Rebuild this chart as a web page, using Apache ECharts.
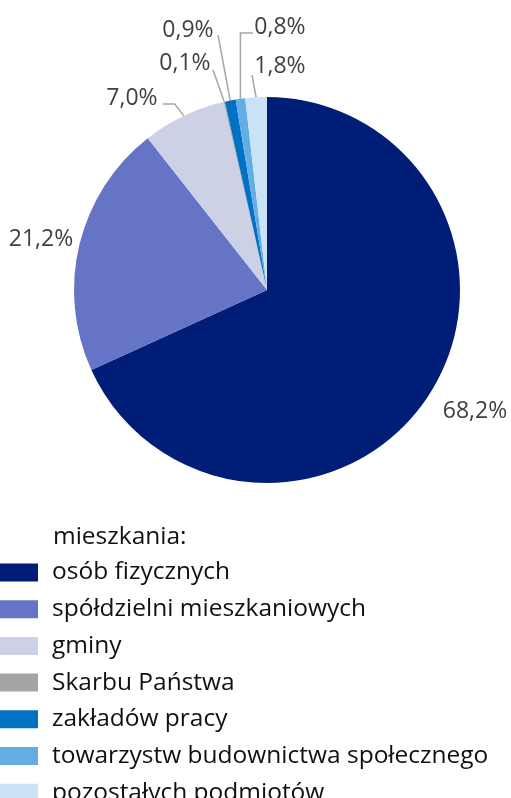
<!DOCTYPE html>
<html>
<head>
  <meta charset="utf-8" />
  <title>ECharts</title>
  <script src="https://cdn.jsdelivr.net/npm/echarts@6/dist/echarts.min.js"></script>
  <style>
    html, body { margin: 0; padding: 0; background: #fff; }
  </style>
</head>
<body>
<div id="main" style="width:511px;height:798px;"></div>
<script type="text/javascript">
  // dane
  var categories = ['osób fizycznych', 'spółdzielni mieszkaniowych', 'gminy', 'Skarbu Państwa',
    'zakładów pracy', 'towarzystw budownictwa społecznego', 'pozostałych podmiotów'];
  var shares = [68.2, 21.2, 7.0, 0.1, 0.9, 0.8, 1.8];
  var colors = ['#001d77', '#6574c4', '#cdd1e6', '#a5a5a5', '#0071c5', '#62aee2', '#c9e2f5'];

  // pozycje etykiet (środek tekstu)
  var labelPos = [[475, 411], [41, 239], [132, 98], [185, 63], [188, 30], [280, 27], [280, 66]];

  var myChart = echarts.init(document.getElementById('main'));
  var font = '"Open Sans", "Noto Sans", sans-serif';

  function linePoints(idx, p0) {
    var l = labelPos[idx];
    switch (idx) {
      case 2: return [p0, [p0[0] - 9, l[1] + 6], [l[0] + 31, l[1] + 6]];
      case 3: return [p0, [l[0] + 28, l[1] + 7]];
      case 4: return [p0, [l[0] + 30, l[1] + 5]];
      case 5: return [p0, [p0[0], l[1] + 6], [l[0] - 27, l[1] + 6]];
      case 6: return [p0, [l[0] - 28, l[1] + 9]];
    }
    return null;
  }

  var option = {
    backgroundColor: '#fff',
    animation: false,
    title: {
      text: 'mieszkania:',
      left: 48,
      top: 520,
      textStyle: { fontFamily: font, fontSize: 24.5, fontWeight: 'normal', color: '#111' }
    },
    legend: {
      orient: 'vertical',
      left: 0,
      top: 560,
      height: 320,
      padding: 0,
      itemWidth: 38,
      itemHeight: 18,
      itemGap: 11.7,
      icon: 'rect',
      selectedMode: false,
      textStyle: { fontFamily: font, fontSize: 24.5, color: '#111', lineHeight: 18, padding: [0, 0, 0, 9] },
      data: categories
    },
    series: [
      {
        type: 'pie',
        center: [267, 290],
        radius: 193,
        startAngle: 90,
        clockwise: true,
        avoidLabelOverlap: false,
        data: categories.map(function (c, i) {
          return {
            name: c,
            value: shares[i],
            itemStyle: { color: colors[i] },
            labelLine: { show: i >= 2 }
          };
        }),
        label: {
          show: true,
          position: 'outside',
          fontFamily: font,
          fontSize: 23,
          color: '#404040',
          formatter: function (p) {
            return p.value.toFixed(1).replace('.', ',') + '%';
          }
        },
        labelLine: {
          show: true,
          length: 10,
          length2: 10,
          lineStyle: { color: '#a6a6a6', width: 1.5 }
        },
        labelLayout: function (params) {
          var idx = params.dataIndex;
          var res = {
            x: labelPos[idx][0],
            y: labelPos[idx][1],
            align: 'center',
            verticalAlign: 'middle'
          };
          if (params.labelLinePoints) {
            var pts = linePoints(idx, params.labelLinePoints[0]);
            if (pts) res.labelLinePoints = pts;
          }
          return res;
        }
      }
    ]
  };
  myChart.setOption(option);
</script>
</body>
</html>
